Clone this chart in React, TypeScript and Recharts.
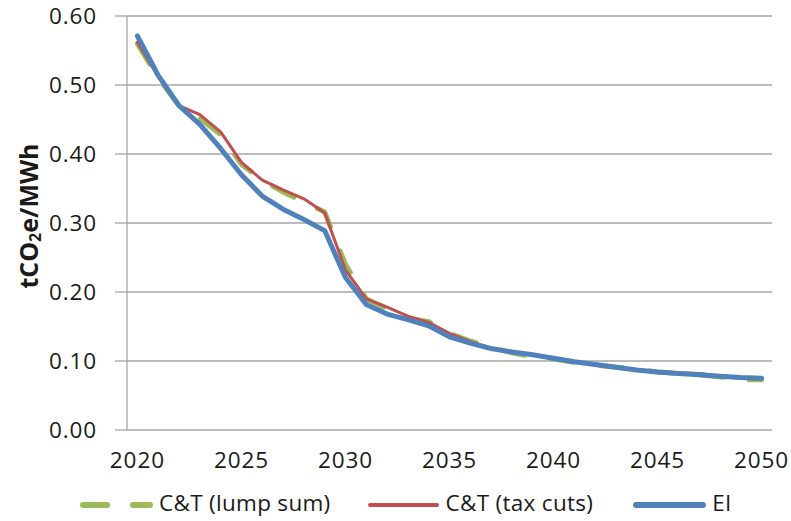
import { LineChart, Line, XAxis, YAxis, CartesianGrid } from 'recharts'

const years = [
  2020, 2021, 2022, 2023, 2024, 2025, 2026, 2027, 2028, 2029, 2030, 2031, 2032, 2033, 2034, 2035,
  2036, 2037, 2038, 2039, 2040, 2041, 2042, 2043, 2044, 2045, 2046, 2047, 2048, 2049, 2050,
]

const lumpSum = [
  0.56, 0.51, 0.47, 0.452, 0.428, 0.385, 0.362, 0.345, 0.33, 0.316, 0.24, 0.19, 0.176, 0.162, 0.157,
  0.14, 0.129, 0.12, 0.112, 0.106, 0.103, 0.098, 0.094, 0.091, 0.088, 0.084, 0.082, 0.08, 0.077,
  0.073, 0.073,
]

const taxCuts = [
  0.562, 0.512, 0.47, 0.457, 0.432, 0.388, 0.362, 0.348, 0.335, 0.315, 0.232, 0.19, 0.178, 0.165,
  0.156, 0.14, 0.128, 0.119, 0.113, 0.109, 0.103, 0.099, 0.094, 0.091, 0.087, 0.084, 0.083, 0.082,
  0.078, 0.075, 0.074,
]

const ei = [
  0.571, 0.514, 0.47, 0.443, 0.408, 0.37, 0.339, 0.32, 0.305, 0.289, 0.221, 0.182, 0.168, 0.16,
  0.151, 0.135, 0.126, 0.118, 0.113, 0.109, 0.104, 0.099, 0.095, 0.091, 0.087, 0.084, 0.082, 0.08,
  0.078, 0.076, 0.075,
]

const yTicks = [0, 0.1, 0.2, 0.3, 0.4, 0.5, 0.6]
const yearLabels = [2020, 2025, 2030, 2035, 2040, 2045, 2050]

const series = [
  { key: 'lumpSum', name: 'C&T (lump sum)', color: '#9bbb59', width: 5, dash: '24 26', gap: 36 },
  { key: 'taxCuts', name: 'C&T (tax cuts)', color: '#c0504d', width: 3, dash: undefined, gap: 40 },
  { key: 'ei', name: 'EI', color: '#4f81bd', width: 5, dash: undefined, gap: 0 },
]

const data = years.map((year, i) => ({
  year,
  lumpSum: lumpSum[i],
  taxCuts: taxCuts[i],
  ei: ei[i],
}))

// tick marks sit between the yearly categories
const yearEdges = [...years.map((y) => y - 0.5), years[years.length - 1] + 0.5]

const FONT = '"Open Sans", Lato, sans-serif'
const GRID = '#a6a6a6'
const TEXT = '#1a1a1a'
const tickStyle = { fontSize: 22.5, fontFamily: FONT, fill: TEXT, letterSpacing: 0.9 }

function AxisTitle({ viewBox }: any) {
  const cx = 28
  const cy = viewBox.y + viewBox.height / 2 - 7
  return (
    <text
      x={cx}
      y={cy}
      transform={`rotate(-90 ${cx} ${cy})`}
      textAnchor="middle"
      dominantBaseline="central"
      fontFamily={FONT}
      fontWeight="bold"
      fontSize={25}
      fill={TEXT}
    >
      tCO
      <tspan fontSize={16} dy={7}>
        2
      </tspan>
      <tspan dy={-7}>e/MWh</tspan>
    </text>
  )
}

function LegendRow() {
  return (
    <div
      style={{
        position: 'absolute',
        left: 80,
        top: 491,
        height: 24,
        lineHeight: '24px',
        display: 'flex',
        alignItems: 'center',
        fontFamily: FONT,
        fontSize: 22.5,
        letterSpacing: 0.3,
        color: TEXT,
        whiteSpace: 'nowrap',
      }}
    >
      {series.map((s) => (
        <div key={s.key} style={{ display: 'flex', alignItems: 'center', marginRight: s.gap }}>
          <svg width={73} height={12} style={{ marginRight: 6, marginTop: 4 }}>
            <line
              x1={3}
              y1={6}
              x2={70}
              y2={6}
              stroke={s.color}
              strokeWidth={s.width + 1}
              strokeDasharray={s.dash}
              strokeLinecap="round"
            />
          </svg>
          <span>{s.name}</span>
        </div>
      ))}
    </div>
  )
}

export default function App() {
  return (
    <div style={{ position: 'absolute', left: 0, top: 0, width: 791, height: 521, background: '#fff' }}>
      <LineChart width={791} height={521} data={data} margin={{ top: 16, right: 19, bottom: 61, left: 0 }}>
        <CartesianGrid vertical={false} stroke={GRID} strokeWidth={1.3} />
        <XAxis
          xAxisId="edges"
          dataKey="year"
          type="number"
          domain={[2019.5, 2050.5]}
          ticks={yearEdges}
          interval={0}
          tick={() => <g />}
          tickSize={7}
          height={0}
          stroke={GRID}
          strokeWidth={1.3}
        />
        <XAxis
          xAxisId="labels"
          dataKey="year"
          type="number"
          domain={[2019.5, 2050.5]}
          ticks={yearLabels}
          interval={0}
          axisLine={false}
          tickLine={false}
          tickMargin={16}
          height={30}
          tick={tickStyle}
        />
        <YAxis
          width={127}
          domain={[0, 0.6]}
          ticks={yTicks}
          interval={0}
          tickFormatter={(v: number) => v.toFixed(2)}
          tickSize={12}
          tickMargin={18}
          stroke={GRID}
          strokeWidth={1.3}
          tick={tickStyle}
          label={<AxisTitle />}
        />
        {series.map((s) => (
          <Line
            key={s.key}
            xAxisId="edges"
            type="linear"
            dataKey={s.key}
            name={s.name}
            stroke={s.color}
            strokeWidth={s.width}
            strokeDasharray={s.dash}
            strokeLinecap="round"
            strokeLinejoin="round"
            dot={false}
            isAnimationActive={false}
          />
        ))}
      </LineChart>
      <LegendRow />
    </div>
  )
}
